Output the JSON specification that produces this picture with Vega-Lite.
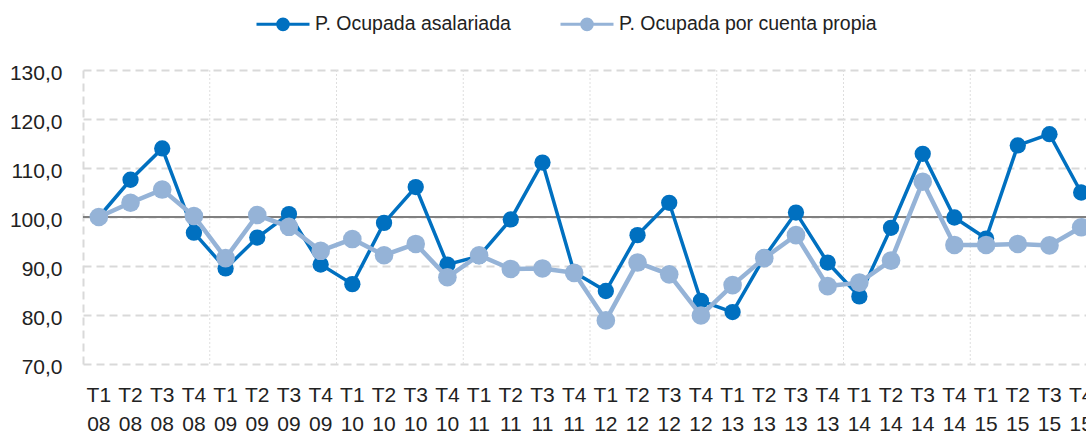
{
  "$schema": "https://vega.github.io/schema/vega-lite/v6.json",
  "width": 1003,
  "height": 294,
  "autosize": {"type": "none"},
  "padding": {"left": 83, "top": 70, "right": 0, "bottom": 70},
  "background": "white",
  "config": {"view": {"stroke": null}, "font": "Liberation Sans"},
  "data": {"values": [
    {"q": "T1 08", "s": "P. Ocupada asalariada", "v": 100.0},
    {"q": "T2 08", "s": "P. Ocupada asalariada", "v": 107.6},
    {"q": "T3 08", "s": "P. Ocupada asalariada", "v": 114.0},
    {"q": "T4 08", "s": "P. Ocupada asalariada", "v": 96.8},
    {"q": "T1 09", "s": "P. Ocupada asalariada", "v": 89.5},
    {"q": "T2 09", "s": "P. Ocupada asalariada", "v": 95.8},
    {"q": "T3 09", "s": "P. Ocupada asalariada", "v": 100.6},
    {"q": "T4 09", "s": "P. Ocupada asalariada", "v": 90.3},
    {"q": "T1 10", "s": "P. Ocupada asalariada", "v": 86.3},
    {"q": "T2 10", "s": "P. Ocupada asalariada", "v": 98.8},
    {"q": "T3 10", "s": "P. Ocupada asalariada", "v": 106.1},
    {"q": "T4 10", "s": "P. Ocupada asalariada", "v": 90.3},
    {"q": "T1 11", "s": "P. Ocupada asalariada", "v": 92.0},
    {"q": "T2 11", "s": "P. Ocupada asalariada", "v": 99.5},
    {"q": "T3 11", "s": "P. Ocupada asalariada", "v": 111.1},
    {"q": "T4 11", "s": "P. Ocupada asalariada", "v": 88.7},
    {"q": "T1 12", "s": "P. Ocupada asalariada", "v": 84.9},
    {"q": "T2 12", "s": "P. Ocupada asalariada", "v": 96.3},
    {"q": "T3 12", "s": "P. Ocupada asalariada", "v": 102.9},
    {"q": "T4 12", "s": "P. Ocupada asalariada", "v": 82.9},
    {"q": "T1 13", "s": "P. Ocupada asalariada", "v": 80.6},
    {"q": "T2 13", "s": "P. Ocupada asalariada", "v": 91.8},
    {"q": "T3 13", "s": "P. Ocupada asalariada", "v": 100.9},
    {"q": "T4 13", "s": "P. Ocupada asalariada", "v": 90.7},
    {"q": "T1 14", "s": "P. Ocupada asalariada", "v": 83.8},
    {"q": "T2 14", "s": "P. Ocupada asalariada", "v": 97.8},
    {"q": "T3 14", "s": "P. Ocupada asalariada", "v": 112.9},
    {"q": "T4 14", "s": "P. Ocupada asalariada", "v": 99.9},
    {"q": "T1 15", "s": "P. Ocupada asalariada", "v": 95.6},
    {"q": "T2 15", "s": "P. Ocupada asalariada", "v": 114.6},
    {"q": "T3 15", "s": "P. Ocupada asalariada", "v": 116.9},
    {"q": "T4 15", "s": "P. Ocupada asalariada", "v": 105.0},
    {"q": "T1 08", "s": "P. Ocupada por cuenta propia", "v": 100.0},
    {"q": "T2 08", "s": "P. Ocupada por cuenta propia", "v": 102.9},
    {"q": "T3 08", "s": "P. Ocupada por cuenta propia", "v": 105.6},
    {"q": "T4 08", "s": "P. Ocupada por cuenta propia", "v": 100.2},
    {"q": "T1 09", "s": "P. Ocupada por cuenta propia", "v": 91.6},
    {"q": "T2 09", "s": "P. Ocupada por cuenta propia", "v": 100.4},
    {"q": "T3 09", "s": "P. Ocupada por cuenta propia", "v": 98.0},
    {"q": "T4 09", "s": "P. Ocupada por cuenta propia", "v": 93.1},
    {"q": "T1 10", "s": "P. Ocupada por cuenta propia", "v": 95.5},
    {"q": "T2 10", "s": "P. Ocupada por cuenta propia", "v": 92.2},
    {"q": "T3 10", "s": "P. Ocupada por cuenta propia", "v": 94.5},
    {"q": "T4 10", "s": "P. Ocupada por cuenta propia", "v": 87.7},
    {"q": "T1 11", "s": "P. Ocupada por cuenta propia", "v": 92.2},
    {"q": "T2 11", "s": "P. Ocupada por cuenta propia", "v": 89.4},
    {"q": "T3 11", "s": "P. Ocupada por cuenta propia", "v": 89.5},
    {"q": "T4 11", "s": "P. Ocupada por cuenta propia", "v": 88.6},
    {"q": "T1 12", "s": "P. Ocupada por cuenta propia", "v": 78.9},
    {"q": "T2 12", "s": "P. Ocupada por cuenta propia", "v": 90.7},
    {"q": "T3 12", "s": "P. Ocupada por cuenta propia", "v": 88.3},
    {"q": "T4 12", "s": "P. Ocupada por cuenta propia", "v": 79.9},
    {"q": "T1 13", "s": "P. Ocupada por cuenta propia", "v": 86.1},
    {"q": "T2 13", "s": "P. Ocupada por cuenta propia", "v": 91.6},
    {"q": "T3 13", "s": "P. Ocupada por cuenta propia", "v": 96.3},
    {"q": "T4 13", "s": "P. Ocupada por cuenta propia", "v": 85.9},
    {"q": "T1 14", "s": "P. Ocupada por cuenta propia", "v": 86.6},
    {"q": "T2 14", "s": "P. Ocupada por cuenta propia", "v": 91.1},
    {"q": "T3 14", "s": "P. Ocupada por cuenta propia", "v": 107.2},
    {"q": "T4 14", "s": "P. Ocupada por cuenta propia", "v": 94.3},
    {"q": "T1 15", "s": "P. Ocupada por cuenta propia", "v": 94.3},
    {"q": "T2 15", "s": "P. Ocupada por cuenta propia", "v": 94.5},
    {"q": "T3 15", "s": "P. Ocupada por cuenta propia", "v": 94.2},
    {"q": "T4 15", "s": "P. Ocupada por cuenta propia", "v": 97.9}
  ]},
  "layer": [
    {
      "transform": [{"filter": "datum.s == 'P. Ocupada asalariada' && indexof(datum.q, 'T1') == 0 && datum.q != 'T1 08'"}],
      "mark": {"type": "rule", "color": "#dedede", "strokeWidth": 1, "strokeDash": [2, 2]},
      "encoding": {
        "x": {"field": "q", "type": "nominal", "bandPosition": 0,
          "scale": {"domain": ["T1 08","T2 08","T3 08","T4 08","T1 09","T2 09","T3 09","T4 09","T1 10","T2 10","T3 10","T4 10","T1 11","T2 11","T3 11","T4 11","T1 12","T2 12","T3 12","T4 12","T1 13","T2 13","T3 13","T4 13","T1 14","T2 14","T3 14","T4 14","T1 15","T2 15","T3 15","T4 15"],
            "range": [0, 1014], "paddingInner": 0, "paddingOuter": 0},
          "axis": {"title": null, "domain": false, "ticks": false, "grid": false, "labelAngle": 0,
            "labelExpr": "split(datum.value, ' ')", "labelFont": "Liberation Sans", "labelFontSize": 21,
            "labelLineHeight": 29, "labelPadding": 20, "labelColor": "#222222", "labelOverlap": false, "labelBound": false}
        }
      }
    },
    {
      "data": {"values": [{"base": 100}]},
      "mark": {"type": "rule", "color": "#808080", "strokeWidth": 2},
      "encoding": {
        "y": {"field": "base", "type": "quantitative"}
      }
    },
    {
      "transform": [{"filter": "datum.s == 'P. Ocupada asalariada'"}],
      "mark": {"type": "line", "strokeWidth": 3.5, "point": {"filled": true, "size": 265, "opacity": 1}},
      "encoding": {
        "x": {"field": "q", "type": "nominal"},
        "y": {"field": "v", "type": "quantitative",
          "scale": {"domain": [70, 130], "nice": false, "zero": false},
          "axis": {"title": null, "values": [70, 80, 90, 100, 110, 120, 130],
            "labelExpr": "replace(format(datum.value, '.1f'), '.', ',')",
            "grid": true, "gridDash": [8, 5], "gridColor": "#d9d9d9", "gridWidth": 2,
            "domain": true, "domainDash": [8, 5], "domainColor": "#d9d9d9", "domainWidth": 2,
            "ticks": false, "labelPadding": 21, "labelFont": "Liberation Sans", "labelFontSize": 21,
            "labelColor": "#222222", "labelBaseline": "middle", "labelOffset": 3}},
        "color": {"field": "s", "type": "nominal",
          "scale": {"domain": ["P. Ocupada asalariada", "P. Ocupada por cuenta propia"], "range": ["#0070C0", "#95B3D7"]},
          "legend": {"orient": "none", "legendX": 172, "legendY": -74, "direction": "horizontal", "title": null,
            "symbolType": "M-1,0H1M-0.2,0A0.2,0.2,0,1,0,0.2,0A0.2,0.2,0,1,0,-0.2,0Z",
            "symbolSize": 2809, "symbolStrokeWidth": 3,
            "labelFont": "Liberation Sans", "labelFontSize": 19.5, "labelColor": "#222222",
            "labelOffset": 4, "columnPadding": 43, "labelLimit": 400,
            "encode": {"symbols": {"update": {
              "fill": {"scale": "color", "field": "value"},
              "stroke": {"scale": "color", "field": "value"},
              "strokeWidth": {"value": 3},
              "opacity": {"value": 1}}}}}
        }
      }
    },
    {
      "transform": [{"filter": "datum.s == 'P. Ocupada por cuenta propia'"}],
      "mark": {"type": "line", "strokeWidth": 4.5, "point": {"filled": true, "size": 346, "opacity": 1}},
      "encoding": {
        "x": {"field": "q", "type": "nominal"},
        "y": {"field": "v", "type": "quantitative"},
        "color": {"field": "s", "type": "nominal"}
      }
    }
  ]
}
